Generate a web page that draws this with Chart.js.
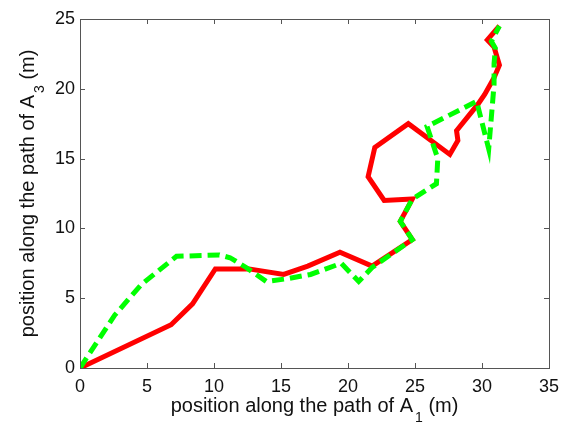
<!DOCTYPE html>
<html>
<head>
<meta charset="utf-8">
<script src="https://cdn.jsdelivr.net/npm/chart.js@4/dist/chart.umd.min.js"></script>
<style>
  html, body { margin: 0; padding: 0; background: #fff; }
  #wrap { width: 568px; height: 425px; }
</style>
</head>
<body>
<div id="wrap"><canvas id="pathChart" width="568" height="425"></canvas></div>
<script>
// Trayectoria A1 vs A3 (rojo, continua)
const redX = [0, 6.8, 8.4, 10.1, 12.6, 15.2, 17.0, 19.4, 21.8, 24.8, 23.9, 24.8, 22.7, 21.5, 22.0, 24.5, 27.6, 28.2, 28.1, 29.7, 30.2, 30.9, 31.3, 30.9, 30.4, 31.3];
const redY = [0, 3.1, 4.6, 7.1, 7.1, 6.7, 7.3, 8.3, 7.3, 9.2, 10.5, 12.1, 12.0, 13.7, 15.8, 17.5, 15.3, 16.3, 17.0, 18.9, 19.6, 20.8, 21.7, 23.0, 23.5, 24.5];

// Estimación (verde, discontinua)
const greenX = [0, 2.6, 4.6, 7.2, 10.4, 11.2, 12.4, 13.9, 15.5, 17.2, 19.5, 20.8, 21.8, 24.8, 23.9, 24.8, 26.6, 26.7, 25.9, 29.6, 30.5, 30.9, 30.9, 31.0, 30.7, 31.3];
const greenY = [0, 3.8, 6.0, 8.0, 8.1, 7.9, 7.2, 6.2, 6.4, 6.7, 7.5, 6.2, 7.2, 9.2, 10.5, 12.1, 13.2, 15.0, 17.3, 19.1, 15.7, 20.3, 21.8, 22.9, 23.4, 24.5];

// Ticks
const xTicks = [0, 5, 10, 15, 20, 25, 30, 35];
const yTicks = [0, 5, 10, 15, 20, 25];

const FONT = "'Liberation Sans', Arial, Helvetica, sans-serif";
const AXIS_COLOR = '#555';

const toPoints = (xs, ys) => xs.map((x, i) => ({ x: x, y: ys[i] }));

// Títulos de ejes con subíndice + marcas hacia dentro (estilo MATLAB)
const matlabAxes = {
  id: 'matlabAxes',
  afterDraw(chart) {
    const ctx = chart.ctx;
    const a = chart.chartArea;
    const xs = chart.scales.x, ys = chart.scales.y;
    ctx.save();

    // caja
    ctx.strokeStyle = AXIS_COLOR;
    ctx.lineWidth = 1;
    ctx.strokeRect(Math.round(a.left) + 0.5, Math.round(a.top) + 0.5,
                   Math.round(a.right - a.left), Math.round(a.bottom - a.top));

    // marcas
    const tl = 5;
    ctx.beginPath();
    xTicks.forEach(v => {
      const px = Math.round(xs.getPixelForValue(v)) + 0.5;
      ctx.moveTo(px, a.bottom); ctx.lineTo(px, a.bottom - tl);
      ctx.moveTo(px, a.top); ctx.lineTo(px, a.top + tl);
    });
    yTicks.forEach(v => {
      const py = Math.round(ys.getPixelForValue(v)) + 0.5;
      ctx.moveTo(a.left, py); ctx.lineTo(a.left + tl, py);
      ctx.moveTo(a.right, py); ctx.lineTo(a.right - tl, py);
    });
    ctx.stroke();

    // títulos
    ctx.fillStyle = '#111';
    const drawTitle = (main, sub, tail, cx, cy, rot) => {
      ctx.save();
      ctx.translate(cx, cy);
      ctx.rotate(rot);
      ctx.textBaseline = 'alphabetic';
      ctx.textAlign = 'left';
      const big = '20px ' + FONT, small = '14px ' + FONT;
      ctx.font = big;
      const w1 = ctx.measureText(main).width;
      const w3 = ctx.measureText(tail).width;
      ctx.font = small;
      const w2 = ctx.measureText(sub).width;
      let x0 = -(w1 + w2 + w3 + 2) / 2;
      ctx.font = big;
      ctx.fillText(main, x0, 0);
      ctx.font = small;
      ctx.fillText(sub, x0 + w1 + 2, 10);
      ctx.font = big;
      ctx.fillText(tail, x0 + w1 + w2 + 2, 0);
      ctx.restore();
    };
    drawTitle('position along the path of A', '1', ' (m)', (a.left + a.right) / 2, 412, 0);
    drawTitle('position along the path of A', '3', ' (m)', 34, (a.top + a.bottom) / 2, -Math.PI / 2);

    ctx.restore();
  }
};

new Chart(document.getElementById('pathChart'), {
  type: 'scatter',
  data: {
    datasets: [
      {
        label: 'estimado',
        data: toPoints(greenX, greenY),
        showLine: true,
        borderColor: '#00ff00',
        borderWidth: 5,
        borderDash: [12, 6],
        borderCapStyle: 'butt',
        borderJoinStyle: 'miter',
        pointRadius: 0,
        tension: 0,
        order: 0
      },
      {
        label: 'real',
        data: toPoints(redX, redY),
        showLine: true,
        borderColor: '#ff0000',
        borderWidth: 5,
        borderJoinStyle: 'miter',
        pointRadius: 0,
        tension: 0,
        order: 1
      }
    ]
  },
  options: {
    responsive: false,
    animation: false,
    layout: { padding: { top: 19, right: 19, left: 0, bottom: 0 } },
    plugins: { legend: { display: false }, tooltip: { enabled: false } },
    scales: {
      x: {
        type: 'linear', min: 0, max: 35,
        afterBuildTicks: s => { s.ticks = xTicks.map(v => ({ value: v })); },
        afterFit: s => { s.height = 57; },
        grid: { display: false, drawTicks: false },
        border: { display: false },
        ticks: { color: '#111', font: { family: FONT, size: 18 }, padding: 8, maxRotation: 0 }
      },
      y: {
        type: 'linear', min: 0, max: 25,
        afterBuildTicks: s => { s.ticks = yTicks.map(v => ({ value: v })); },
        afterFit: s => { s.width = 80; },
        grid: { display: false, drawTicks: false },
        border: { display: false },
        ticks: { color: '#111', font: { family: FONT, size: 18 }, padding: 5 }
      }
    }
  },
  plugins: [matlabAxes]
});
</script>
</body>
</html>
